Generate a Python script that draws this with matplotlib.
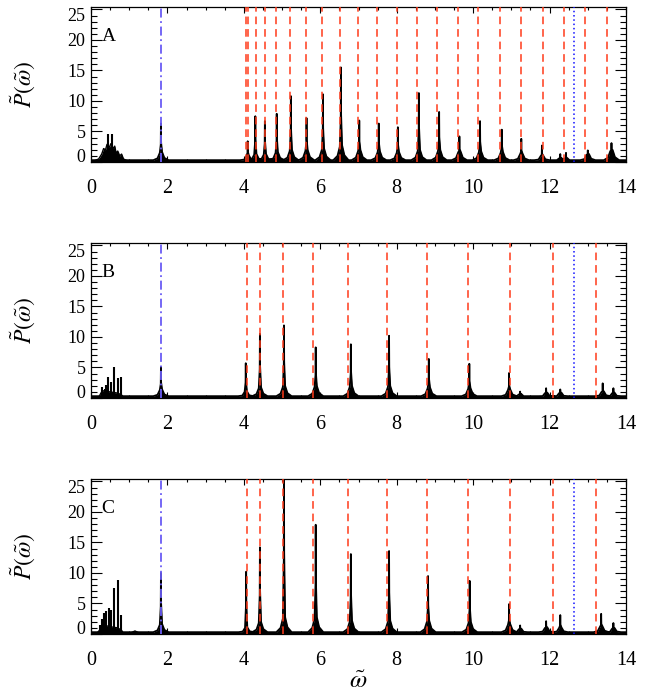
import matplotlib
matplotlib.use("Agg")
import matplotlib.pyplot as plt
import numpy as np
from matplotlib.ticker import MultipleLocator
from matplotlib.transforms import ScaledTranslation

plt.rcParams['font.family'] = ['Liberation Serif', 'DejaVu Serif']
plt.rcParams['mathtext.fontset'] = 'stix'

# ---------------- data ----------------
panel_labels = ['A', 'B', 'C']

# sharp spectral peaks: centre, height, skirt level
peaks_A_omega = [1.83, 4.10, 4.30, 4.55, 4.86, 5.23, 5.64, 6.07, 6.54, 7.02, 7.53, 8.03, 8.58,
                 9.11, 9.64, 10.18, 10.75, 11.26, 11.80, 12.28, 12.43, 13.00, 13.62]
peaks_A_power = [6.3, 3.4, 7.5, 6.7, 7.9, 10.8, 7.2, 11.1, 15.5, 6.8, 6.3, 5.7, 11.3,
                 8.2, 4.2, 6.7, 5.3, 3.8, 2.7, 1.3, 1.5, 1.9, 3.1]
peaks_A_skirt = [1.5, 1.0, 1.2, 1.2, 1.5, 1.8, 1.8, 2.0, 2.5, 1.8, 1.6, 1.5, 1.8,
                 1.8, 1.6, 1.6, 1.5, 1.3, 1.0, 0.6, 0.6, 1.2, 1.8]

peaks_B_omega = [1.83, 4.05, 4.42, 5.05, 5.88, 6.80, 7.80, 8.84, 9.90, 10.94, 11.23, 11.91,
                 12.28, 13.39, 13.67]
peaks_B_power = [5.1, 5.7, 10.5, 11.9, 8.3, 8.8, 10.2, 6.4, 5.6, 4.1, 1.05, 1.6,
                 1.4, 2.4, 1.6]
peaks_B_skirt = [1.3, 1.0, 1.6, 1.8, 1.8, 1.8, 1.8, 1.6, 1.5, 1.3, 0.6, 0.8,
                 0.8, 1.0, 0.8]

peaks_C_omega = [1.83, 4.06, 4.42, 5.05, 5.88, 6.80, 7.80, 8.82, 9.91, 10.94, 11.23, 11.91,
                 12.28, 13.35, 13.67]
peaks_C_power = [10.0, 10.2, 14.2, 27.0, 17.9, 13.1, 13.6, 9.5, 8.7, 4.9, 1.4, 2.1,
                 3.1, 3.3, 1.8]
peaks_C_skirt = [1.5, 1.0, 1.8, 2.5, 2.5, 2.0, 2.0, 2.0, 1.8, 1.5, 0.8, 1.0,
                 1.0, 1.2, 0.9]

# low-frequency spikes
low_A_omega = [0.45, 0.54, 0.71]
low_A_power = [4.6, 4.6, 1.6]
low_B_omega = [0.28, 0.36, 0.39, 0.44, 0.52, 0.61, 0.70, 0.79]
low_B_power = [1.8, 1.5, 2.1, 3.4, 2.6, 5.1, 3.2, 3.5]
low_C_omega = [0.24, 0.28, 0.35, 0.40, 0.47, 0.52, 0.61, 0.70, 0.78]
low_C_power = [1.5, 2.5, 3.5, 3.7, 4.2, 4.0, 7.6, 8.9, 3.1]

# broad low-frequency humps
hump_A_omega = [0.05, 0.20, 0.28, 0.33, 0.38, 0.42, 0.48, 0.52, 0.58, 0.62, 0.66, 0.70, 0.75, 0.80, 0.85, 0.95]
hump_A_power = [0.1, 0.5, 1.3, 2.2, 2.0, 2.9, 2.4, 3.0, 2.2, 2.6, 1.4, 1.8, 1.0, 1.3, 0.5, 0.2]
hump_B_omega = [0.20, 0.26, 0.30, 0.50, 0.70, 0.80, 0.85]
hump_B_power = [0.1, 0.8, 1.2, 1.0, 0.8, 0.5, 0.1]
hump_C_omega = [0.15, 0.22, 0.30, 0.50, 0.70, 0.80, 0.85, 1.05, 1.15, 1.25]
hump_C_power = [0.1, 0.6, 1.5, 1.2, 1.0, 0.6, 0.1, 0.2, 0.5, 0.2]

# reference frequencies
red_A = [4.05, 4.12, 4.31, 4.55, 4.85, 5.22, 5.62, 6.04, 6.52, 6.98, 7.49, 8.01, 8.52,
         9.05, 9.60, 10.14, 10.70, 11.26, 11.82, 12.39, 12.94, 13.51]
red_BC = [4.07, 4.41, 5.02, 5.82, 6.73, 7.74, 8.78, 9.87, 10.97, 12.08, 13.22]
dashdot_omega = 1.83
dotted_omega = 12.64

baseline_level = 0.3

panels = [
    dict(label='A', po=peaks_A_omega, pp=peaks_A_power, ps=peaks_A_skirt,
         lo=low_A_omega, lp=low_A_power, ho=hump_A_omega, hp=hump_A_power, red=red_A),
    dict(label='B', po=peaks_B_omega, pp=peaks_B_power, ps=peaks_B_skirt,
         lo=low_B_omega, lp=low_B_power, ho=hump_B_omega, hp=hump_B_power, red=red_BC),
    dict(label='C', po=peaks_C_omega, pp=peaks_C_power, ps=peaks_C_skirt,
         lo=low_C_omega, lp=low_C_power, ho=hump_C_omega, hp=hump_C_power, red=red_BC),
]

# peak glyph shape (style only)
GLYPH_DX = [-0.2, -0.09, -0.03, -0.005, 0.0, 0.005, 0.03, 0.09, 0.2]


def build_profile(po, pp, ps):
    xs, ys = [0.0], [baseline_level]
    for c, h, s in sorted(zip(po, pp, ps)):
        levels = [baseline_level, max(0.4 * s, baseline_level), s, 0.45 * h, h,
                  0.5 * h, s * 1.1, max(0.45 * s, baseline_level), baseline_level]
        for dx, lv in zip(GLYPH_DX, levels):
            xs.append(c + dx)
            ys.append(lv)
    xs.append(14.0)
    ys.append(baseline_level)
    return np.array(xs), np.array(ys)


W, H = 651, 698
fig = plt.figure(figsize=(W / 100, H / 100), dpi=100)

left = 91 / W
width = (626 - 91) / W
boxes = [(7, 162), (243, 398), (479, 634)]

for i, (p, (ytop, ybot)) in enumerate(zip(panels, boxes)):
    ax = fig.add_axes([left, 1 - ybot / H, width, (ybot - ytop) / H])
    ax.set_xlim(0, 14)
    ax.set_ylim(0, 25.4)

    x, y = build_profile(p['po'], p['pp'], p['ps'])
    ax.fill_between(x, 0, y, color='black', lw=0, zorder=2)
    ax.plot(x, y, color='black', lw=1.3, zorder=2)
    ax.fill_between(p['ho'], 0, p['hp'], color='black', lw=0, zorder=2)
    ax.plot(p['ho'], p['hp'], color='black', lw=1.0, zorder=2)
    ax.vlines(p['lo'], 0, p['lp'], color='black', lw=1.5, zorder=2)

    for r in p['red']:
        ax.axvline(r, color='#ff3a1a', lw=1.1, ls=(0, (5, 3.2)), zorder=3)
    ax.axvline(dashdot_omega, color='#6a5cf5', lw=1.3, ls=(0, (5, 2, 1, 2)), zorder=3)
    ax.axvline(dotted_omega, color='#1010ff', lw=1.1, ls=(0, (1, 1.8)), zorder=3)

    ax.xaxis.set_major_locator(MultipleLocator(2))
    ax.xaxis.set_minor_locator(MultipleLocator(0.5))
    ax.yaxis.set_major_locator(MultipleLocator(5))
    ax.yaxis.set_minor_locator(MultipleLocator(1))
    ax.tick_params(axis='x', which='both', direction='in', top=True, bottom=True,
                   labelsize=14.5, pad=12)
    ax.tick_params(axis='x', which='major', length=4, width=0.8)
    ax.tick_params(axis='x', which='minor', length=2, width=0.8)
    ax.tick_params(axis='y', which='both', direction='in', left=True, right=True,
                   labelsize=13, pad=4)
    ax.tick_params(axis='y', which='major', length=8, width=0.8)
    ax.tick_params(axis='y', which='minor', length=4, width=0.8)
    for sp in ax.spines.values():
        sp.set_linewidth(0.9)

    ax.set_ylabel(r'$\tilde{P}(\tilde{\omega})$', fontsize=17)
    ax.yaxis.set_label_coords(-0.1, 0.5)
    ax.text(0.02, 0.81, p['label'], transform=ax.transAxes, fontsize=14,
            ha='left', va='center')

    if i == 2:
        ax.set_xlabel(r'$\tilde{\omega}$', fontsize=18)
        ax.xaxis.set_label_coords(0.5, -0.24)

    fig.canvas.draw()
    for lab in ax.get_yticklabels():
        t = lab.get_text()
        if t == '0':
            lab.set_transform(lab.get_transform() + ScaledTranslation(0, 7 / 100, fig.dpi_scale_trans))
        elif t == '25':
            lab.set_transform(lab.get_transform() + ScaledTranslation(0, -5 / 100, fig.dpi_scale_trans))

fig.savefig('out.png', dpi=100)
